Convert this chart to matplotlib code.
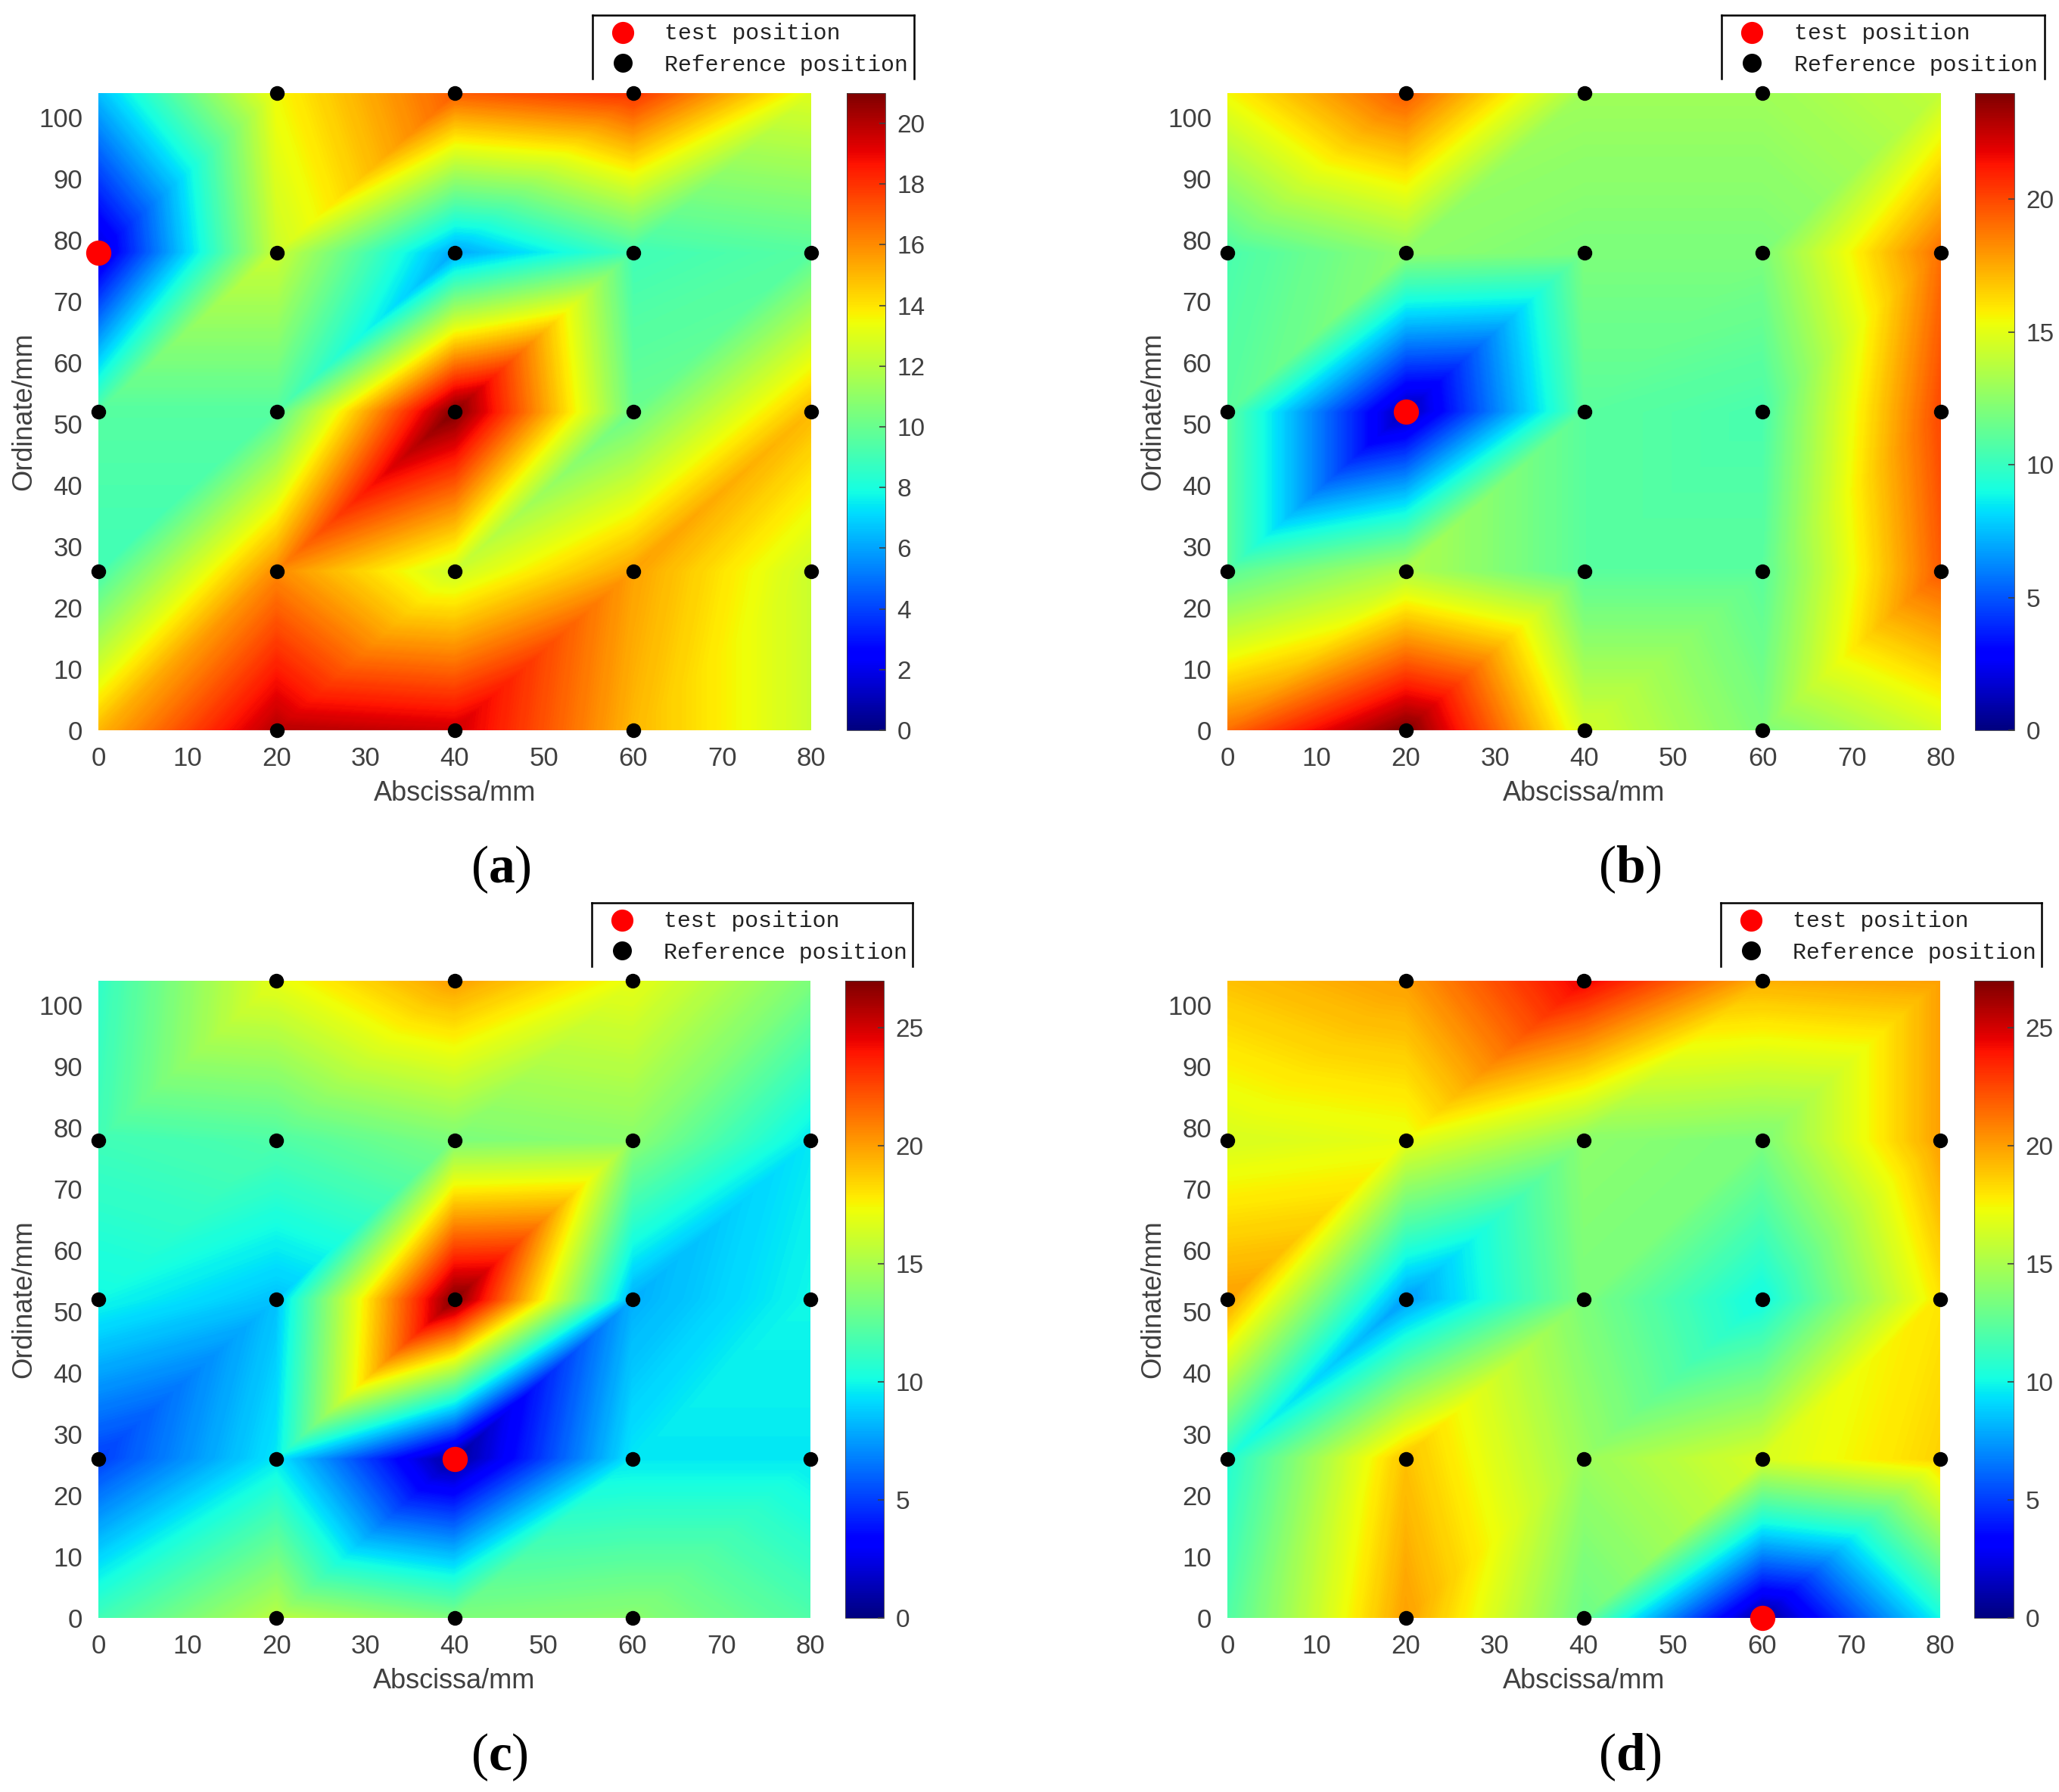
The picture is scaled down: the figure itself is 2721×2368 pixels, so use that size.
import matplotlib
matplotlib.use('agg')
import matplotlib.pyplot as plt
import matplotlib.tri as mtri
from matplotlib.cm import ScalarMappable
from matplotlib.colors import Normalize
import numpy as np

plt.rcParams['font.family'] = ['Liberation Sans', 'DejaVu Sans']
plt.rcParams['mathtext.fontset'] = 'custom'
plt.rcParams['mathtext.rm'] = 'Liberation Serif'
plt.rcParams['mathtext.bf'] = 'Liberation Serif:bold'

x_grid = [0, 20, 40, 60, 80]
y_grid = [0, 26, 52, 78, 104]

# rows run from y=104 down to y=0
values_a = [[6.5, 13.5, 17.0, 18.0, 13.0],
            [1.5, 12.5, 6.0, 9.0, 9.5],
            [9.5, 9.5, 21.0, 10.0, 15.0],
            [9.0, 16.0, 12.5, 15.5, 12.5],
            [15.0, 20.0, 19.5, 15.0, 12.5]]
values_b = [[15.5, 19.5, 13.0, 13.0, 14.0],
            [10.5, 12.5, 12.0, 12.0, 19.0],
            [11.0, 1.0, 11.0, 10.5, 20.0],
            [11.0, 13.5, 11.0, 11.0, 19.5],
            [19.0, 24.0, 14.5, 12.0, 14.5]]
values_c = [[11.0, 17.0, 20.0, 17.0, 13.5],
            [11.5, 12.0, 13.5, 14.0, 9.5],
            [10.0, 8.5, 27.0, 8.0, 10.0],
            [5.0, 9.5, 0.5, 9.5, 9.5],
            [11.5, 15.5, 13.5, 14.0, 12.0]]
values_d = [[19.0, 20.0, 24.5, 19.5, 20.0],
            [16.5, 17.0, 14.0, 13.5, 20.0],
            [20.0, 7.5, 13.5, 10.0, 18.0],
            [10.5, 19.0, 14.5, 16.5, 18.5],
            [12.0, 20.0, 13.0, 0.5, 10.0]]

panel_names = ['a', 'b', 'c', 'd']
panel_values = [values_a, values_b, values_c, values_d]
test_points = [(0, 78), (20, 52), (40, 26), (60, 0)]
color_tops = [21, 24, 27, 27]
color_ticks = [list(range(0, 21, 2)), [0, 5, 10, 15, 20],
               [0, 5, 10, 15, 20, 25], [0, 5, 10, 15, 20, 25]]
x_ticks = list(range(0, 81, 10))
y_ticks = list(range(0, 101, 10))

# pixel boxes in the output picture: left, top, right, bottom
main_boxes = [(130, 123, 1072, 965), (1622, 123, 2565, 965),
              (130, 1296, 1071, 2138), (1622, 1296, 2564, 2138)]
cbar_boxes = [(1119, 123, 1170, 965), (2610, 123, 2662, 965),
              (1117, 1296, 1168, 2138), (2609, 1296, 2661, 2138)]
legend_boxes = [(783, 20, 1208, 104), (2275, 20, 2702, 104),
                (782, 1193, 1206, 1277), (2274, 1193, 2698, 1277)]
letter_pos = [(662, 1149), (2154, 1149), (660, 2322), (2154, 2322)]

W, H = 2721, 2368
fig = plt.figure(figsize=(W / 100, H / 100), dpi=100)
gray = '#404040'


def add_box(box):
    l, t, r, b = box
    return fig.add_axes([l / W, 1 - b / H, (r - l) / W, (b - t) / H])


xx, yy = np.meshgrid(x_grid, y_grid)
tri_list = []
for j in range(len(y_grid) - 1):
    for i in range(len(x_grid) - 1):
        n = j * len(x_grid) + i
        # every cell is cut from lower left to upper right
        tri_list.append([n, n + 1, n + len(x_grid) + 1])
        tri_list.append([n, n + len(x_grid) + 1, n + len(x_grid)])
tri = mtri.Triangulation(xx.ravel(), yy.ravel(), tri_list)

for k in range(4):
    ax = add_box(main_boxes[k])
    z = np.flipud(np.array(panel_values[k], dtype=float))
    norm = Normalize(0, color_tops[k])
    # fine contour bands, gouraud would blend rgb and lose the jet colours
    cs = ax.tricontourf(tri, z.ravel(), levels=np.linspace(0, color_tops[k], 300),
                        cmap='jet', norm=norm, extend='both')
    cs.set_edgecolor('face')
    cs.set_linewidth(0.3)
    ax.set_xlim(0, 80)
    ax.set_ylim(0, 104)
    ax.set_xticks(x_ticks)
    ax.set_yticks(y_ticks)
    ax.tick_params(length=0, pad=15, labelsize=25, labelcolor=gray)
    for s in ax.spines.values():
        s.set_visible(False)
    ax.set_xlabel('Abscissa/mm', fontsize=26, color=gray, labelpad=9)
    ax.set_ylabel('Ordinate/mm', fontsize=26, color=gray, labelpad=1)

    for xv in x_grid:
        for yv in y_grid:
            if (xv in (0, 80)) and (yv in (0, 104)):
                continue
            if (xv, yv) == test_points[k]:
                continue
            ax.plot(xv, yv, 'o', color='black', ms=14, mew=0, clip_on=False, zorder=5)
    ax.plot(*test_points[k], 'o', color='red', ms=24, mew=0, clip_on=False, zorder=6)

    cax = add_box(cbar_boxes[k])
    cb = fig.colorbar(ScalarMappable(norm=norm, cmap='jet'), cax=cax)
    cb.set_ticks(color_ticks[k])
    cb.ax.tick_params(direction='in', length=6, width=1.2, color=gray,
                      labelsize=24, labelcolor=gray, pad=11)
    cb.outline.set_linewidth(0.6)
    cb.outline.set_edgecolor(gray)

    lax = add_box(legend_boxes[k])
    lax.set_xlim(0, 1)
    lax.set_ylim(0, 1)
    lax.set_xticks([])
    lax.set_yticks([])
    lax.spines['bottom'].set_visible(False)
    for name in ('top', 'left', 'right'):
        lax.spines[name].set_linewidth(1.8)
    lax.plot(0.094, 0.73, 'o', color='red', ms=21, mew=0)
    lax.plot(0.094, 0.245, 'o', color='black', ms=18, mew=0)
    lax.text(0.224, 0.71, 'test position', family='Liberation Mono', fontsize=21.5,
             color='#222222', va='center')
    lax.text(0.224, 0.215, 'Reference position', family='Liberation Mono', fontsize=21.5,
             color='#222222', va='center')

    fig.text(letter_pos[k][0] / W, 1 - letter_pos[k][1] / H,
             r'$\mathrm{(}\mathbf{%s}\mathrm{)}$' % panel_names[k],
             fontsize=50, ha='center', va='center', color='black')

fig.savefig('out.png', dpi=100)
